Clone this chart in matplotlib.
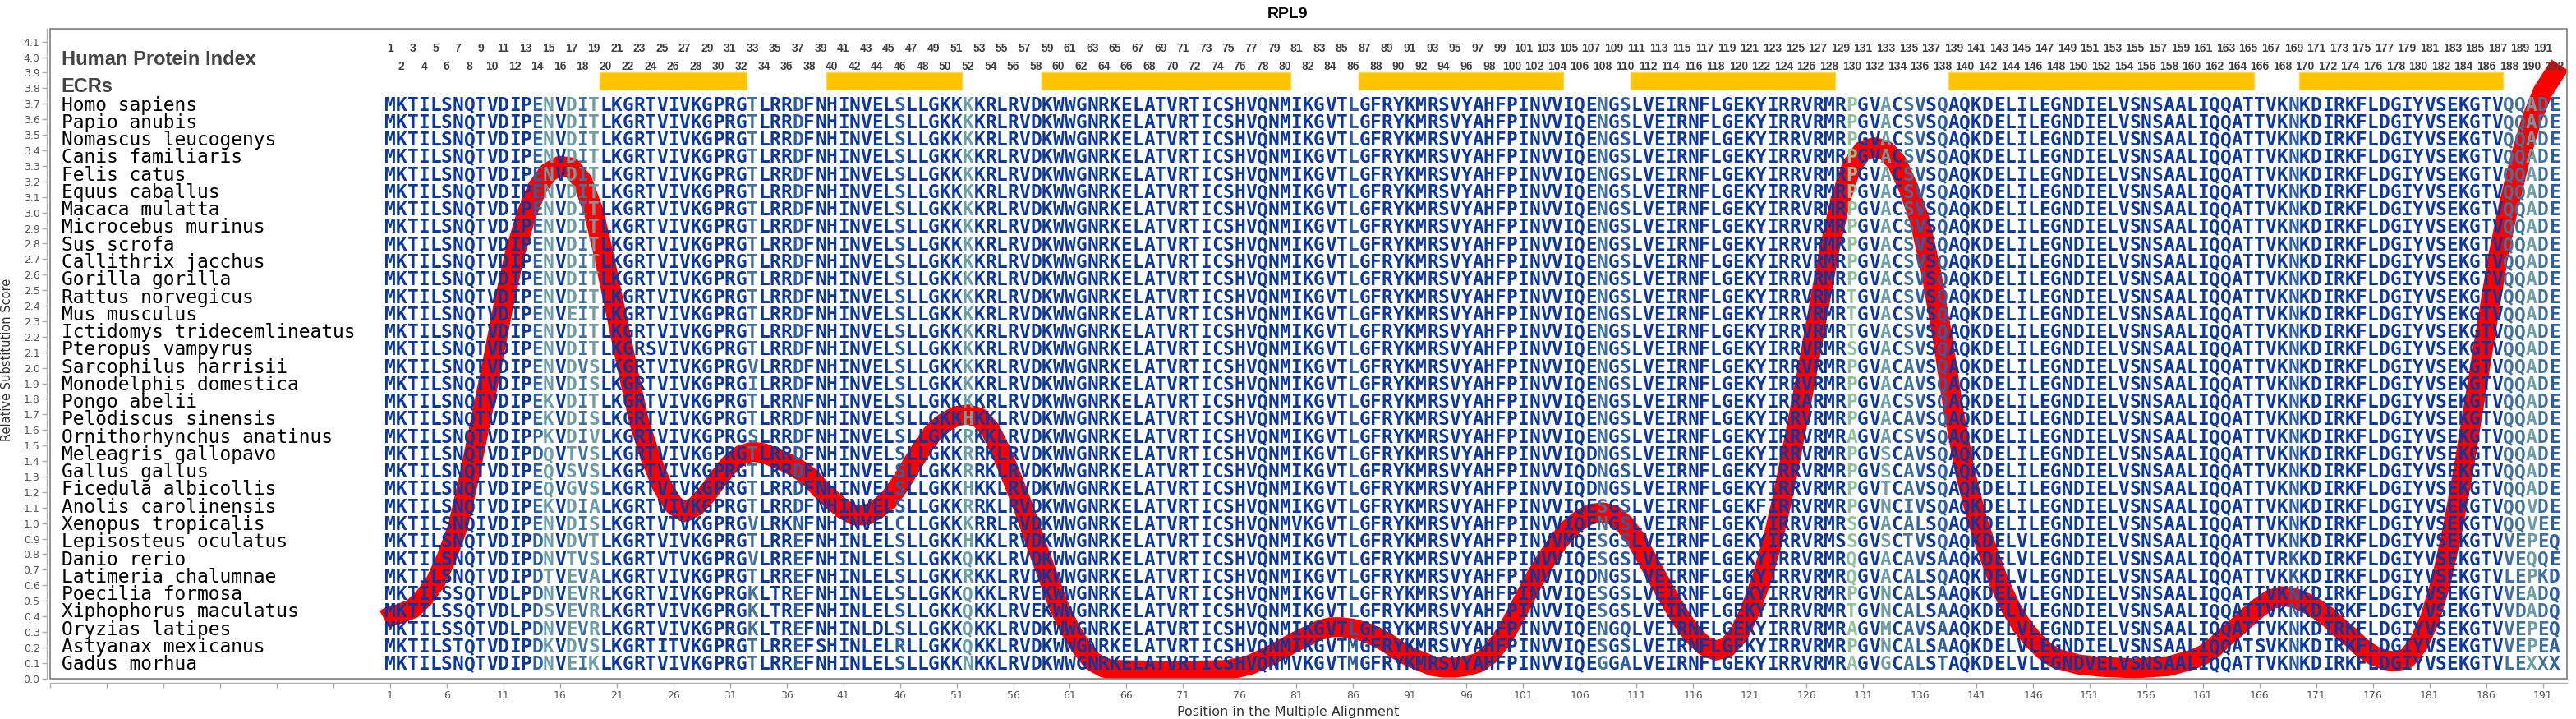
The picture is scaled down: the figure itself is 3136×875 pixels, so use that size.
import numpy as np
import matplotlib
matplotlib.use('Agg')
import matplotlib.pyplot as plt
from matplotlib.patches import Rectangle

TITLE = 'RPL9'

# human reference sequence, positions 1..192
HUMAN = ('MKTILSNQTV' 'DIPENVDITL' 'KGRTVIVKGP' 'RGTLRRDFNH' 'INVELSLLGK'
         'KKKRLRVDKW' 'WGNRKELATV' 'RTICSHVQNM' 'IKGVTLGFRY' 'KMRSVYAHFP'
         'INVVIQENGS' 'LVEIRNFLGE' 'KYIRRVRMRP' 'GVACSVSQAQ' 'KDELILEGND'
         'IELVSNSAAL' 'IQQATTVKNK' 'DIRKFLDGIY' 'VSEKGTVQQA' 'DE')

SPECIES = ['Homo sapiens', 'Papio anubis', 'Nomascus leucogenys', 'Canis familiaris',
           'Felis catus', 'Equus caballus', 'Macaca mulatta', 'Microcebus murinus',
           'Sus scrofa', 'Callithrix jacchus', 'Gorilla gorilla', 'Rattus norvegicus',
           'Mus musculus', 'Ictidomys tridecemlineatus', 'Pteropus vampyrus',
           'Sarcophilus harrisii', 'Monodelphis domestica', 'Pongo abelii',
           'Pelodiscus sinensis', 'Ornithorhynchus anatinus', 'Meleagris gallopavo',
           'Gallus gallus', 'Ficedula albicollis', 'Anolis carolinensis',
           'Xenopus tropicalis', 'Lepisosteus oculatus', 'Danio rerio',
           'Latimeria chalumnae', 'Poecilia formosa', 'Xiphophorus maculatus',
           'Oryzias latipes', 'Astyanax mexicanus', 'Gadus morhua']

# residues that differ from the human sequence (position: residue)
VARIANTS = {
    'Rattus norvegicus': {130: 'T'},
    'Mus musculus': {17: 'E', 130: 'T'},
    'Ictidomys tridecemlineatus': {130: 'T'},
    'Pteropus vampyrus': {24: 'S', 130: 'S'},
    'Sarcophilus harrisii': {18: 'V', 19: 'S', 33: 'V', 135: 'A'},
    'Monodelphis domestica': {19: 'S', 33: 'I', 135: 'A'},
    'Pongo abelii': {15: 'K', 37: 'N', 126: 'A'},
    'Pelodiscus sinensis': {15: 'K', 19: 'S', 52: 'H', 54: 'K', 135: 'A'},
    'Ornithorhynchus anatinus': {14: 'P', 15: 'K', 19: 'V', 33: 'S', 52: 'R', 54: 'K', 130: 'A'},
    'Meleagris gallopavo': {14: 'D', 15: 'Q', 17: 'T', 18: 'V', 19: 'S', 52: 'R', 53: 'R',
                            54: 'K', 107: 'D', 133: 'S', 135: 'A'},
    'Gallus gallus': {15: 'Q', 17: 'S', 18: 'V', 19: 'S', 52: 'R', 53: 'R', 54: 'K',
                      107: 'D', 133: 'S', 135: 'A'},
    'Ficedula albicollis': {15: 'Q', 17: 'G', 18: 'V', 19: 'S', 52: 'H', 54: 'K',
                            107: 'D', 133: 'T', 135: 'A'},
    'Anolis carolinensis': {15: 'K', 19: 'A', 52: 'R', 53: 'R', 54: 'K', 108: 'S',
                            122: 'F', 133: 'N', 135: 'I', 190: 'V'},
    'Xenopus tropicalis': {9: 'I', 19: 'S', 26: 'T', 33: 'V', 36: 'K', 37: 'N', 46: 'C',
                           53: 'R', 54: 'R', 81: 'V', 130: 'S', 135: 'A', 136: 'L',
                           190: 'V', 191: 'E'},
    'Lepisosteus oculatus': {14: 'D', 18: 'V', 37: 'E', 43: 'L', 52: 'H', 54: 'K',
                             105: 'M', 108: 'S', 129: 'S', 130: 'S', 133: 'S', 135: 'T',
                             145: 'V', 188: 'V', 189: 'E', 190: 'P', 191: 'E', 192: 'Q'},
    'Danio rerio': {14: 'D', 17: 'T', 18: 'V', 19: 'S', 26: 'T', 33: 'V', 37: 'E',
                    43: 'L', 52: 'Q', 54: 'K', 108: 'S', 130: 'Q', 135: 'A', 138: 'A',
                    145: 'V', 168: 'R', 169: 'K', 188: 'V', 189: 'E', 190: 'Q',
                    191: 'Q', 192: 'E'},
    'Latimeria chalumnae': {14: 'D', 15: 'T', 17: 'E', 18: 'V', 19: 'A', 37: 'E', 43: 'L',
                            52: 'R', 54: 'K', 107: 'D', 130: 'Q', 135: 'A', 136: 'L',
                            145: 'V', 169: 'K', 188: 'L', 189: 'E', 190: 'P', 191: 'K',
                            192: 'D'},
    'Poecilia formosa': {7: 'S', 12: 'L', 14: 'D', 17: 'E', 18: 'V', 19: 'R', 33: 'K',
                         35: 'T', 37: 'E', 43: 'L', 52: 'Q', 54: 'K', 58: 'E', 108: 'S',
                         133: 'N', 135: 'A', 136: 'L', 138: 'A', 145: 'V', 188: 'V',
                         189: 'E', 190: 'A', 191: 'D', 192: 'Q'},
    'Xiphophorus maculatus': {7: 'S', 12: 'L', 14: 'D', 15: 'S', 17: 'E', 18: 'V', 19: 'R',
                              33: 'K', 35: 'T', 37: 'E', 43: 'L', 52: 'Q', 54: 'K', 58: 'E',
                              108: 'S', 130: 'T', 133: 'N', 135: 'A', 136: 'L', 138: 'A',
                              145: 'V', 188: 'V', 189: 'D', 190: 'A', 191: 'D', 192: 'Q'},
    'Oryzias latipes': {7: 'S', 12: 'L', 14: 'D', 17: 'E', 18: 'V', 19: 'R', 33: 'K',
                        35: 'T', 37: 'E', 43: 'L', 44: 'D', 52: 'Q', 54: 'K', 110: 'Q',
                        130: 'A', 133: 'M', 135: 'A', 138: 'A', 145: 'V', 188: 'V',
                        189: 'E', 190: 'P', 191: 'E', 192: 'Q'},
    'Astyanax mexicanus': {7: 'T', 14: 'D', 15: 'K', 18: 'V', 19: 'S', 25: 'I', 26: 'T',
                           37: 'E', 39: 'S', 43: 'L', 46: 'R', 52: 'Q', 54: 'K', 86: 'M',
                           108: 'S', 133: 'N', 135: 'A', 136: 'L', 138: 'A', 145: 'V',
                           166: 'S', 188: 'V', 189: 'E', 190: 'P', 191: 'E', 192: 'A'},
    'Gadus morhua': {14: 'D', 17: 'E', 19: 'K', 37: 'E', 43: 'L', 52: 'N', 54: 'K',
                     81: 'V', 86: 'M', 108: 'G', 110: 'A', 130: 'A', 133: 'G', 135: 'A',
                     136: 'L', 138: 'T', 145: 'V', 151: 'V', 188: 'L', 189: 'E',
                     190: 'X', 191: 'X', 192: 'X'},
}

# column conservation shade (0 = conserved, darker blue); unlisted columns are 0
COLUMN_SHADE = {14: 1, 15: 3, 17: 3, 18: 2, 19: 3, 33: 2, 37: 1, 46: 1, 52: 3,
                86: 1, 108: 2, 110: 1, 130: 4, 133: 3, 135: 2, 136: 1, 138: 1,
                169: 1, 188: 2, 189: 2, 190: 3, 191: 2, 192: 1}
SHADE_COLORS = ['#0a37a0', '#2b5ea8', '#41729f', '#6a9ea6', '#8fc49a']

# evolutionarily conserved regions (start, end positions)
ECRS = [(20, 32), (40, 51), (59, 80), (87, 104), (111, 128), (139, 165), (170, 187)]

# relative substitution score curve
CURVE_POS = [0.5, 1, 2, 3, 4, 5, 6, 7, 8, 9, 10, 11, 12, 13, 14, 15, 16, 17, 18, 19, 20,
             21, 22, 23, 24, 25, 26, 27, 28, 29, 30, 31, 32, 33, 34, 35, 36, 37, 38, 39,
             40, 41, 42, 43, 44, 45, 46, 47, 48, 49, 50, 51, 52, 53, 54, 55, 56, 57, 58,
             59, 60, 61, 62, 63, 64, 65, 68, 72, 75, 77, 79, 81, 83, 84, 85, 86, 87, 88,
             89, 90, 91, 92, 93, 94, 95, 96, 97, 98, 99, 100, 101, 102, 103, 104, 105,
             106, 107, 108, 109, 110, 111, 112, 113, 114, 115, 116, 117, 118, 119, 120,
             121, 122, 123, 124, 125, 126, 127, 128, 129, 130, 131, 132, 133, 134, 135,
             136, 137, 138, 139, 140, 141, 142, 143, 144, 145, 146, 147, 148, 150, 152,
             155, 158, 160, 161, 162, 163, 164, 165, 166, 167, 168, 169, 170, 171, 172,
             173, 174, 175, 176, 177, 178, 179, 180, 181, 182, 183, 184, 185, 186, 187,
             188, 189, 190, 191, 192.5]
CURVE_SCORE = [0.38, 0.40, 0.42, 0.45, 0.52, 0.62, 0.78, 0.98, 1.30, 1.66, 2.02, 2.40,
               2.73, 2.98, 3.16, 3.26, 3.30, 3.29, 3.20, 3.00, 2.68, 2.33, 1.98, 1.65,
               1.42, 1.24, 1.12, 1.07, 1.11, 1.19, 1.29, 1.38, 1.44, 1.46, 1.45, 1.42,
               1.39, 1.35, 1.30, 1.22, 1.15, 1.09, 1.05, 1.05, 1.09, 1.15, 1.25, 1.37,
               1.49, 1.59, 1.65, 1.69, 1.70, 1.68, 1.60, 1.45, 1.27, 1.08, 0.87, 0.67,
               0.47, 0.32, 0.20, 0.11, 0.07, 0.055, 0.05, 0.05, 0.055, 0.09, 0.16, 0.24,
               0.31, 0.33, 0.33, 0.32, 0.30, 0.27, 0.23, 0.18, 0.14, 0.11, 0.08, 0.07,
               0.07, 0.08, 0.10, 0.15, 0.24, 0.36, 0.50, 0.64, 0.76, 0.87, 0.96, 1.02,
               1.06, 1.07, 1.05, 0.99, 0.89, 0.76, 0.63, 0.50, 0.38, 0.28, 0.21, 0.18,
               0.20, 0.28, 0.43, 0.63, 0.88, 1.20, 1.57, 1.95, 2.35, 2.75, 3.08, 3.30,
               3.40, 3.42, 3.40, 3.32, 3.16, 2.95, 2.62, 2.20, 1.72, 1.33, 1.04, 0.82,
               0.62, 0.46, 0.34, 0.25, 0.18, 0.13, 0.09, 0.075, 0.065, 0.08, 0.12, 0.15,
               0.20, 0.27, 0.33, 0.40, 0.46, 0.51, 0.53, 0.52, 0.49, 0.45, 0.40, 0.33,
               0.27, 0.20, 0.15, 0.12, 0.11, 0.13, 0.22, 0.38, 0.62, 0.95, 1.35, 1.80,
               2.25, 2.70, 3.05, 3.35, 3.60, 3.78, 3.95]

ROW_TOP = 3.7
ROW_STEP = 0.1125
MONO = 'DejaVu Sans Mono'
SANS = 'Liberation Sans'


def main():
    fig = plt.figure(figsize=(31.36, 8.75), dpi=100)
    ax = fig.add_axes([61 / 3136, 49.3 / 875, 3063.7 / 3136, 790.7 / 875])
    ax.set_xlim(-29, 193.1)
    ax.set_ylim(0, 4.183)

    # red substitution score curve (under the letters)
    ax.plot(CURVE_POS, CURVE_SCORE, color='#ff0000', lw=17.5,
            solid_joinstyle='round', solid_capstyle='butt', zorder=2)

    # alignment rows
    for i, name in enumerate(SPECIES):
        y = ROW_TOP - i * ROW_STEP
        base = y - 0.044
        ax.text(-28.0, base, name, ha='left', va='baseline', family=MONO,
                size=16.5, color='black', zorder=3)
        seq = list(HUMAN)
        for p, aa in VARIANTS.get(name, {}).items():
            seq[p - 1] = aa
        for p, aa in enumerate(seq, start=1):
            ax.text(p, base, aa, ha='center', va='baseline', family=MONO,
                    weight='bold', size=16.5,
                    color=SHADE_COLORS[COLUMN_SHADE.get(p, 0)], zorder=3)

    # header: human protein index numbers
    for p in range(1, len(HUMAN) + 1):
        yy = 4.060 if p % 2 else 3.946
        ax.text(p, yy - 0.027, str(p), ha='center', va='baseline', family=SANS,
                weight='bold', size=10, color='#404040', zorder=3)
    ax.text(-28.0, 3.948, 'Human Protein Index', ha='left', va='baseline',
            family=SANS, weight='bold', size=17, color='#444444')
    ax.text(-28.0, 3.774, 'ECRs', ha='left', va='baseline',
            family=SANS, weight='bold', size=17, color='#444444')
    for s, e in ECRS:
        ax.add_patch(Rectangle((s - 0.5, 3.791), e - s + 1, 0.111,
                               facecolor='#ffc300', edgecolor='#ffd54a', lw=1, zorder=2))

    # axes styling
    ax.set_yticks(np.round(np.arange(0, 4.15, 0.1), 1))
    ax.set_yticklabels([f'{v:.1f}' for v in np.arange(0, 4.15, 0.1)])
    xt = list(range(-29, 192, 5))
    ax.set_xticks(xt)
    ax.set_xticklabels([str(t) if t > 0 else '' for t in xt])
    ax.tick_params(axis='both', direction='out', length=4, width=1, color='#aaaaaa',
                   labelsize=9, labelcolor='#555555', pad=2)
    for side in ['top', 'right']:
        ax.spines[side].set_visible(False)
    for side in ['left', 'bottom']:
        ax.spines[side].set_color('#b0b0b0')
        ax.spines[side].set_linewidth(1)
    ax.spines['left'].set_position(('outward', 3))
    ax.spines['bottom'].set_position(('outward', 4))
    ax.add_patch(Rectangle((0, 0), 1, 1, transform=ax.transAxes, fill=False,
                           edgecolor='#7f7f7f', lw=1.2, zorder=5, clip_on=False))

    fig.text(0.5, 1 - 17 / 875, TITLE, ha='center', va='center', family=SANS,
             weight='bold', size=14, color='black')
    fig.text(0.5, 1 - 866 / 875, 'Position in the Multiple Alignment', ha='center',
             va='center', size=11.5, color='#333333')
    fig.text(9 / 3136, 0.5, 'Relative Substitution Score', ha='center', va='center',
             rotation=90, size=10.5, color='#333333')

    fig.savefig('out.png', dpi=100)


if __name__ == '__main__':
    main()
